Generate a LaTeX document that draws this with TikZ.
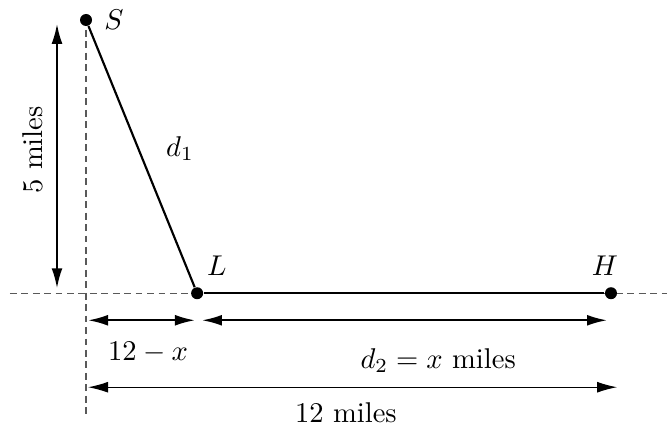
\documentclass[tikz,border=0pt]{standalone}
\usepackage{tikz}
\usetikzlibrary{arrows.meta}
\tikzstyle{dot}=[circle,fill=black, minimum size = 4.2pt, inner sep=0pt]
\tikzstyle{guide}=[gray!70!black, line width=0.4pt, dash pattern=on 2.4pt off 1.6pt]
\tikzstyle{dim}=[{Latex[length=7pt,width=3.8pt]}-{Latex[length=7pt,width=3.8pt]}, line width=0.7pt]

\begin{document}
\begin{tikzpicture}[x=0.538cm, y=0.672cm]
    \useasboundingbox (-1.966,-2.436) rectangle (13.28,5.366);

    %guides
    \draw [guide] (-1.74,0) -- (13.28,0);
    \draw [guide] (0,4.82) -- (0,-2.23);

    %points
    \node [dot, label={[xshift=9.8pt]center:$S$}] (S) at (0,5) {};
    \node [dot, label={[xshift=6.9pt, yshift=9.7pt]center:$L$}] (L) at (2.54,0) {};
    \node [dot, label={[xshift=-2.1pt, yshift=9.7pt]center:$H$}] (H) at (12,0) {};

    %paths
    \draw [line width=0.75pt] (S) -- node [pos=0.47, right=6pt] {$d_1$} (L);
    \draw [line width=0.75pt] (L) -- (H);

    %height
    \coordinate (htop) at (-0.663,4.93);
    \coordinate (hbot) at (-0.663,0.09);
    \draw [dim] (htop) -- (hbot);
    \node [rotate=90] (hlabel) at (-1.21,2.62) {5 miles};

    %distances
    \coordinate (a1) at (0.046,-0.495);
    \coordinate (a2) at (2.49,-0.495);
    \coordinate (b1) at (2.65,-0.495);
    \coordinate (b2) at (11.91,-0.495);
    \coordinate (c1) at (0.046,-1.72);
    \coordinate (c2) at (12.14,-1.72);
    \draw [dim] (a1) -- (a2);
    \draw [dim] (b1) -- (b2);
    \draw [dim, line width=0.4pt] (c1) -- (c2);

    \node (alabel) at (1.42,-1.08) {$12-x$};
    \node (blabel) at (8.05,-1.23) {$d_2 = x$ miles};
    \node (clabel) at (5.94,-2.18) {12 miles};

\end{tikzpicture}
\end{document}
